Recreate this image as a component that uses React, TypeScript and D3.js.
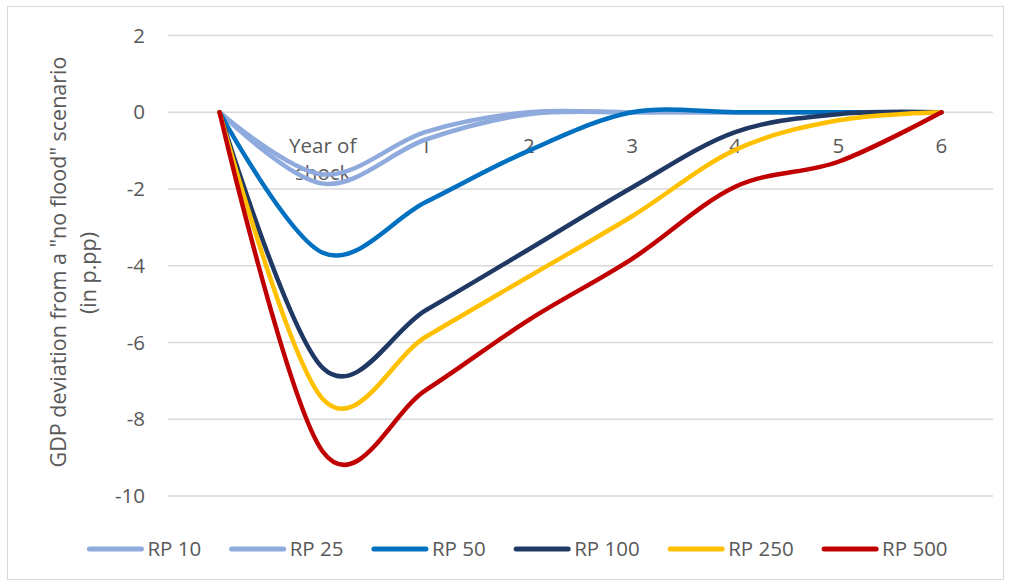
import React from "react";
import * as d3 from "d3";

const categories = ["", "Year of shock", "1", "2", "3", "4", "5", "6"];
const seriesNames = ["RP 10", "RP 25", "RP 50", "RP 100", "RP 250", "RP 500"];
const rp10 = [0, -1.62, -0.51, 0.0, 0, 0, 0, 0];
const rp25 = [0, -1.86, -0.71, -0.05, 0, 0, 0, 0];
const rp50 = [0, -3.66, -2.34, -1.0, 0, 0, 0, 0];
const rp100 = [0, -6.66, -5.16, -3.57, -1.96, -0.52, -0.05, 0];
const rp250 = [0, -7.47, -5.85, -4.28, -2.71, -0.98, -0.21, 0];
const rp500 = [0, -8.84, -7.24, -5.41, -3.82, -1.94, -1.29, 0];
const seriesValues = [rp10, rp25, rp50, rp100, rp250, rp500];
const colors = ["#8faadc", "#8faadc", "#0070c0", "#203864", "#ffc000", "#c00000"];
const yTicks = [-10, -8, -6, -4, -2, 0, 2];
const yTitle = ['GDP deviation from a "no flood" scenario', "(in p.pp)"];

const W = 1011;
const H = 586;
const FONT = "'Open Sans', sans-serif";
const TEXT = "#595959";
const FS = 20.5;

function measure(text: string, size: number) {
  if (typeof document === "undefined") return text.length * size * 0.5;
  const c = document.createElement("canvas").getContext("2d");
  if (!c) return text.length * size * 0.5;
  c.font = `${size}px 'Open Sans'`;
  return c.measureText(text).width;
}

export default function App() {
  const x = d3.scaleBand<string>().domain(categories).range([168, 993]);
  const cx = (c: string) => (x(c) as number) + x.bandwidth() / 2;
  const y = d3.scaleLinear().domain([-10, 2]).range([496, 35.5]);

  const line = d3
    .line<number>()
    .x((_, i) => cx(categories[i]))
    .y((v) => y(v))
    .curve(d3.curveCardinal.tension(0));

  // legend layout
  const lineLen = 56;
  const textGap = 4;
  const itemGap = 28.5;
  const widths = seriesNames.map((n) => lineLen + textGap + measure(n, FS));
  const total = d3.sum(widths) + itemGap * (seriesNames.length - 1);
  let lx = 517.5 - total / 2;
  const legendItems = seriesNames.map((n, i) => {
    const item = { name: n, x: lx, color: colors[i] };
    lx += widths[i] + itemGap;
    return item;
  });
  const legendY = 549;

  return (
    <svg
      width={W}
      height={H}
      style={{ position: "absolute", left: 0, top: 0, background: "#fff" }}
      fontFamily={FONT}
    >
      <rect x={0} y={0} width={W} height={H} fill="#fff" />
      <rect x={7.5} y={6.5} width={996} height={573} fill="none" stroke="#d9d9d9" strokeWidth={1} />
      {yTicks.map((t) => (
        <g key={t}>
          <line x1={168} x2={993} y1={y(t)} y2={y(t)} stroke="#d9d9d9" strokeWidth={1.5} />
          <text x={145} y={y(t)} dy="0.35em" textAnchor="end" fontSize={FS} fill={TEXT}>
            {String(t)}
          </text>
        </g>
      ))}
      {categories.map((c) => {
        const parts = c === "Year of shock" ? ["Year of", "shock"] : [c];
        return (
          <text key={c || "blank"} x={cx(c)} y={152.5} textAnchor="middle" fontSize={FS} fill={TEXT}>
            {parts.map((p, i) => (
              <tspan key={i} x={cx(c)} dy={i === 0 ? 0 : 27}>
                {p}
              </tspan>
            ))}
          </text>
        );
      })}
      <text transform="translate(66,262) rotate(-90)" textAnchor="middle" fontSize={21.5} fill={TEXT}>
        {yTitle[0]}
      </text>
      <text transform="translate(96,273) rotate(-90)" textAnchor="middle" fontSize={21.5} fill={TEXT}>
        {yTitle[1]}
      </text>
      {seriesValues.map((vals, i) => (
        <path
          key={seriesNames[i]}
          d={line(vals) || ""}
          fill="none"
          stroke={colors[i]}
          strokeWidth={4.5}
          strokeLinecap="round"
          strokeLinejoin="round"
        />
      ))}
      {legendItems.map((it) => (
        <g key={it.name}>
          <line
            x1={it.x + 2}
            x2={it.x + lineLen - 2}
            y1={legendY}
            y2={legendY}
            stroke={it.color}
            strokeWidth={5}
            strokeLinecap="round"
          />
          <text x={it.x + lineLen + textGap} y={legendY} dy="0.35em" fontSize={FS} fill={TEXT}>
            {it.name}
          </text>
        </g>
      ))}
    </svg>
  );
}
